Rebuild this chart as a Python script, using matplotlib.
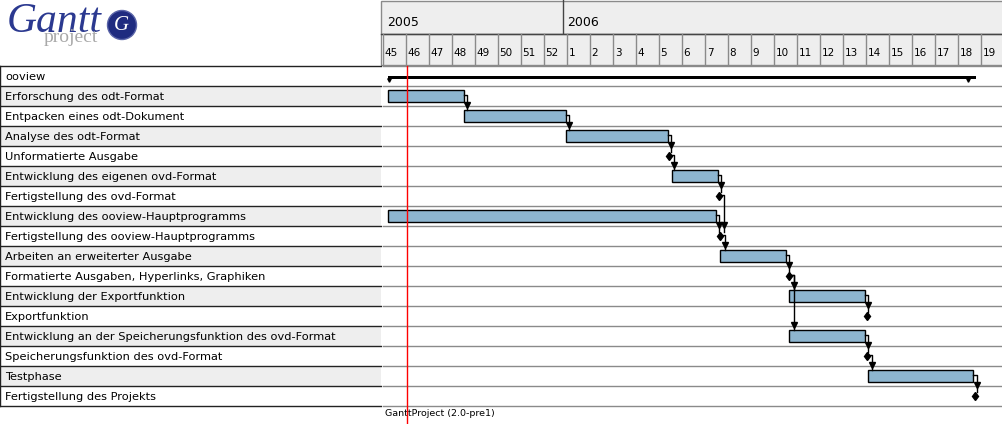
import matplotlib.pyplot as plt
from matplotlib.patches import Rectangle, Circle

# task names, one row each
tasks = ["ooview", "Erforschung des odt-Format", "Entpacken eines odt-Dokument",
         "Analyse des odt-Format", "Unformatierte Ausgabe",
         "Entwicklung des eigenen ovd-Format", "Fertigstellung des ovd-Format",
         "Entwicklung des ooview-Hauptprogramms", "Fertigstellung des ooview-Hauptprogramms",
         "Arbeiten an erweiterter Ausgabe", "Formatierte Ausgaben, Hyperlinks, Graphiken",
         "Entwicklung der Exportfunktion", "Exportfunktion",
         "Entwicklung an der Speicherungsfunktion des ovd-Format",
         "Speicherungsfunktion des ovd-Format", "Testphase", "Fertigstellung des Projekts"]

# start / end in days counted from monday of week 45 (2005)
starts = [1.7, 1.7, 24.7, 55.9, 87.1, 88.0, 102.4, 1.7, 102.7, 102.7, 123.7,
          123.75, 147.4, 123.75, 147.3, 147.8, 180.3]
ends = [180.6, 24.65, 55.7, 86.7, 87.1, 102.0, 102.4, 101.5, 102.7, 122.7, 123.7,
        146.7, 147.4, 146.7, 147.3, 179.75, 180.3]

# dependencies (predecessor row, successor row)
deps = [(1, 2), (2, 3), (3, 4), (4, 5), (5, 6), (6, 8), (7, 8), (8, 9), (9, 10),
        (10, 11), (10, 13), (11, 12), (13, 14), (14, 15), (15, 16)]

weeks = [45, 46, 47, 48, 49, 50, 51, 52, 1, 2, 3, 4, 5, 6, 7, 8, 9, 10, 11, 12,
         13, 14, 15, 16, 17, 18, 19]
years = ["2005", "2006"]
year_start_day = [0, 55]
today = 7.5

W, H = 1003, 424
px_day = 23 / 7.0
x0_px = 382.7
row_top = 66
row_h = 20
bar_col = "#8db5cf"
grey = "#eeeeee"
line_grey = "#8a8a8a"

fig = plt.figure(figsize=(W / 100, H / 100), dpi=100)
bg = fig.add_axes([0, 0, 1, 1])
bg.set_xlim(0, W)
bg.set_ylim(H, 0)
bg.axis("off")

# logo
bg.text(7, 32, "Gantt", family="Liberation Serif", style="italic", fontsize=30,
        color="#2b3990", va="baseline")
bg.text(44, 42, "project", family="Liberation Serif", fontsize=14,
        color="#a8a8a8", va="baseline")
bg.add_patch(Circle((122, 25), 14.5, color="#1f2b80", ec="#5a64a8", lw=1))
bg.text(121, 26, "G", family="Liberation Serif", style="italic", fontsize=15,
        color="white", ha="center", va="center")

# left table
for i, name in enumerate(tasks):
    y = row_top + i * row_h
    bg.add_patch(Rectangle((0.5, y), 380.5, row_h,
                           fc=grey if i % 2 else "white", ec="none"))
    bg.plot([0, 381], [y, y], color="#222222", lw=1)
    bg.text(5, y + row_h / 2 + 0.5, name, fontsize=8.2, va="center", color="black")
bot = row_top + len(tasks) * row_h
bg.plot([0, 381], [bot, bot], color="#222222", lw=1)
bg.plot([0.5, 0.5], [row_top, bot], color="#222222", lw=1)

# header background
bg.add_patch(Rectangle((381, 0.5), W - 381, 33, fc=grey, ec=line_grey, lw=1))
bg.add_patch(Rectangle((381, 34), W - 381, 31, fc=grey, ec=line_grey, lw=1))
bg.plot([381, W], [33.5, 33.5], color="#444444", lw=1)

# header axes share the day scale
hd = fig.add_axes([x0_px / W, 1 - 66 / H, (W - x0_px) / W, 66 / H])
xmax = (W - x0_px) / px_day
hd.set_xlim(0, xmax)
hd.set_ylim(66, 0)
hd.axis("off")
for k, wk in enumerate(weeks):
    d = 7 * k
    hd.plot([d, d], [34, 64], color=line_grey, lw=1)
    hd.text(d + 0.6, 53, str(wk), fontsize=7.5, va="center", ha="left")
for yr, d in zip(years, year_start_day):
    if d > 0:
        hd.plot([d, d], [0, 33], color="#444444", lw=1)
    hd.text(d + 1.2, 22, yr, fontsize=9, va="center", ha="left")

# chart
ax = fig.add_axes([x0_px / W, 0, (W - x0_px) / W, (H - row_top) / H])
ax.set_xlim(0, xmax)
ax.set_ylim((H - row_top) / row_h, 0)
ax.axis("off")
for i in range(len(tasks) + 1):
    ax.axhline(i, color=line_grey, lw=1)

for i in range(len(tasks)):
    s, e = starts[i], ends[i]
    if i == 0:
        ax.add_patch(Rectangle((s, i + 0.485), e - s, 0.165, fc="black", ec="none"))
        ax.plot([s + 0.3, e - 2.6], [i + 0.7, i + 0.7], "v", color="black", ms=2.5)
    elif e > s:
        ax.add_patch(Rectangle((s, i + 0.2), e - s, 0.6, fc=bar_col, ec="black", lw=1.0))
    else:
        ax.plot(s, i + 0.5, "d", color="black", ms=4.5)

for p, q in deps:
    x0 = ends[p] + (0.5 if starts[p] == ends[p] else 0)
    xv = x0 + 1.0
    top = q + (0.3 if starts[q] == ends[q] else 0.2)
    ax.plot([x0, xv, xv], [p + 0.45, p + 0.45, top], color="black", lw=1)
    ax.plot(xv, q - 0.07, "v", color="black", ms=4)

ax.plot([today, today], [0, 20], color="red", lw=1, clip_on=False)

bg.text(385, 413, "GanttProject (2.0-pre1)", fontsize=6.8, va="center")

fig.savefig("out.png", dpi=100)
